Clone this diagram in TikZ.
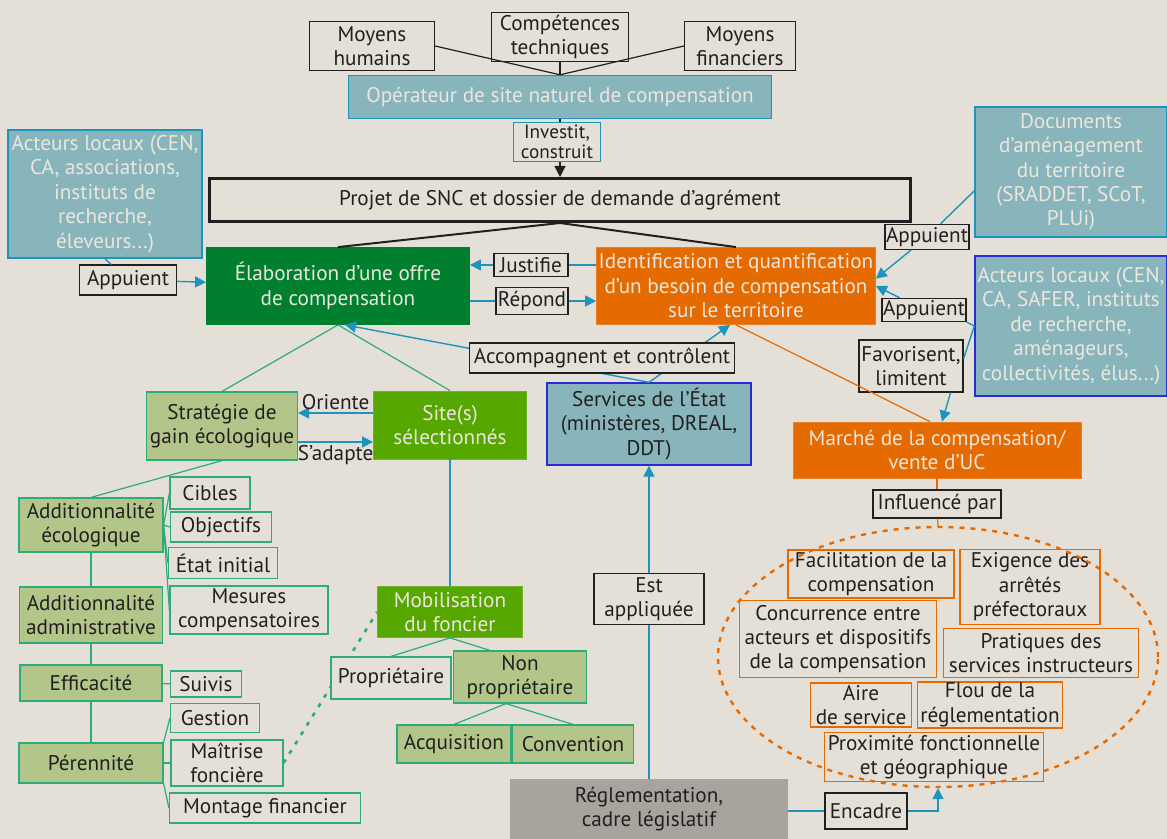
\documentclass[tikz,border=0pt]{standalone}
\usepackage{fontspec}
\setmainfont{PT Sans}
\usetikzlibrary{arrows.meta,shapes.geometric}
\definecolor{fond}{HTML}{E5E0D7}
\definecolor{bleucanard}{HTML}{1E93BC}
\definecolor{grisbleu}{HTML}{88B5BC}
\definecolor{bleuroi}{HTML}{2A2AD6}
\definecolor{vertfonce}{HTML}{00802E}
\definecolor{vertvif}{HTML}{56A700}
\definecolor{vertpale}{HTML}{B3C68A}
\definecolor{vertbord}{HTML}{2EAB7A}
\definecolor{orangecomp}{HTML}{E56A00}
\definecolor{grisregl}{HTML}{A8A39D}
\definecolor{texteclair}{HTML}{ECE6DD}
\definecolor{textefonce}{HTML}{231F20}
\begin{document}
\begin{tikzpicture}[x=0.5pt,y=0.5pt]
\tikzstyle{every node}=[font=\fontsize{10.6}{12.2}\selectfont,align=center,inner sep=0.5pt,text=textefonce]
\tikzstyle{noir}=[draw=textefonce,line width=0.6pt,fill=fond]
\tikzstyle{cadrebleu}=[draw=bleucanard,line width=0.7pt,fill=fond]
\tikzstyle{boitebleue}=[draw=bleucanard,line width=0.7pt,fill=grisbleu,text=texteclair]
\tikzstyle{boitebleuroi}=[draw=bleuroi,line width=0.7pt,fill=grisbleu]
\tikzstyle{boitevertfonce}=[draw=vertfonce,fill=vertfonce,text=texteclair]
\tikzstyle{boiteverte}=[draw=vertvif!85!white,fill=vertvif,text=texteclair]
\tikzstyle{boitepale}=[draw=vertbord,line width=0.6pt,fill=vertpale]
\tikzstyle{cadrevert}=[draw=vertbord,line width=0.6pt,fill=fond]
\tikzstyle{boiteorange}=[draw=orangecomp!85!white,fill=orangecomp,text=texteclair]
\tikzstyle{cadreorange}=[draw=orangecomp,line width=0.7pt]
\tikzstyle{trait}=[textefonce,line width=0.6pt]
\tikzstyle{lien}=[bleucanard,line width=0.7pt]
\tikzstyle{fleche}=[bleucanard,line width=0.7pt,-{Triangle[length=5.5pt,width=5.5pt]}]
\tikzstyle{branche}=[vertbord,line width=0.6pt]
\tikzstyle{trorange}=[orangecomp,line width=0.6pt]
\fill [fond] (0,0) rectangle (1167,-839);
\useasboundingbox (0,0) rectangle (1167,-839);
% operateur et projet
\node [noir,minimum width=62.5pt,minimum height=24.5pt] (humains) at (372,-46) {Moyens\\humains};
\node [noir,minimum width=68.5pt,minimum height=24.5pt] (competences) at (560,-37) {Compétences\\techniques};
\node [noir,minimum width=55.5pt,minimum height=24.5pt] (financiers) at (740,-46) {Moyens\\financiers};
\node [boitebleue,minimum width=211.5pt,minimum height=21.5pt] (operateur) at (560,-97) {Opérateur de site naturel de compensation};
\node [cadrebleu,minimum width=43.5pt,minimum height=19.5pt,font=\fontsize{9.6}{10}\selectfont] (investit) at (557,-142) {Investit,\\construit};
\node [draw=textefonce,line width=1.5pt,fill=fond,minimum width=350.5pt,minimum height=21.5pt] (projet) at (560,-200) {Projet de SNC et dossier de demande d’agrément};
\node [boitevertfonce,minimum width=131.5pt,minimum height=38.5pt] (elaboration) at (338,-286) {Élaboration d’une offre\\de compensation};
\node [boiteorange,minimum width=139.5pt,minimum height=38.5pt] (identification) at (736,-286) {Identification et quantification\\d’un besoin de compensation\\sur le territoire};
\draw [trait] (humains.east) -- (operateur.north);
\draw [trait] (competences) -- (operateur.north);
\draw [trait] (financiers.west) -- (operateur.north);
\draw [trait] (operateur.south) -- (operateur.south |- investit.north);
\draw [trait,-{Triangle[length=5.5pt,width=5.5pt]}] (operateur.south |- investit.south) -- (operateur.south |- projet.north);
\draw [trait,line width=1pt] (projet.south) -- (elaboration.north);
\draw [trait,line width=1pt] (projet.south) -- (identification.north);
% acteurs autour
\node [boitebleue,minimum width=97pt,minimum height=64pt] (acteursgauche) at (105,-194) {Acteurs locaux (CEN,\\CA, associations,\\instituts de\\recherche,\\éleveurs...)};
\node [noir,minimum width=48.5pt,minimum height=15pt] (appuientgauche) at (128,-280) {Appuient};
\node [noir,minimum width=37pt,minimum height=11.5pt] (justifie) at (531,-265) {Justifie};
\node [noir,minimum width=36pt,minimum height=13.5pt] (repond) at (532,-301) {Répond};
\node [boitebleue,minimum width=96pt,minimum height=65pt] (documents) at (1071,-172) {Documents\\d’aménagement\\du territoire\\(SRADDET, SCoT,\\PLUi)};
\node [noir,minimum width=41.5pt,minimum height=12.5pt] (appuienthaut) at (927,-237) {Appuient};
\node [boitebleuroi,text=texteclair,minimum width=96pt,minimum height=70pt] (acteursdroite) at (1071,-326) {Acteurs locaux (CEN,\\CA, SAFER, instituts\\de recherche,\\aménageurs,\\collectivités, élus...)};
\node [noir,minimum width=39.5pt,minimum height=11.5pt] (appuientbas) at (924,-310) {Appuient};
\node [noir,minimum width=52pt,minimum height=26pt] (favorisent) at (911,-366) {Favorisent,\\limitent};
\node [boitebleuroi,minimum width=102pt,minimum height=41pt] (services) at (649,-424) {Services de l’État\\(ministères, DREAL,\\DDT)};
\node [boiteorange,minimum width=144pt,minimum height=28pt] (marche) at (937,-450) {Marché de la compensation/\\vente d’UC};
\node [noir,minimum width=64pt,minimum height=14pt] (influence) at (937,-504) {Influencé par};
\draw [lien] (acteursgauche.south) -- (appuientgauche);
\draw [fleche] (appuientgauche) -- (elaboration);
\draw [lien] (identification.west |- justifie) -- (justifie);
\draw [fleche] (justifie) -- (elaboration.east |- justifie);
\draw [lien] (elaboration.east |- repond) -- (repond);
\draw [fleche] (repond) -- (identification.west |- repond);
\draw [lien] (documents.191) -- (appuienthaut);
\draw [fleche] (appuienthaut) -- (identification.3);
\draw [lien] (acteursdroite.west) -- (appuientbas.south east);
\draw [fleche] (appuientbas) -- (identification.east);
\draw [lien] (acteursdroite.west) -- (favorisent.8);
\draw [fleche] ([xshift=-6.5pt]favorisent.south east) -- ([xshift=2.5pt]marche.north);
\draw [trorange] (identification.south) -- ([xshift=-3.5pt]marche.north);
\draw [fleche] (services.north) -- ([xshift=3.5pt]elaboration.south);
\draw [fleche] (services.north) -- ([xshift=-3pt]identification.south);
\node [noir,minimum width=132.5pt,minimum height=15pt] (accompagnent) at (602,-358) {Accompagnent et contrôlent};
% offre de compensation
\node [boitepale,minimum width=75.5pt,minimum height=34pt] (strategie) at (222,-426) {Stratégie de\\gain écologique};
\node [boiteverte,minimum width=76.5pt,minimum height=34pt] (sites) at (450,-425) {Site(s)\\sélectionnés};
\node [boitepale,minimum width=72pt,minimum height=27pt] (addeco) at (91,-525) {Additionnalité\\écologique};
\node [cadrevert,minimum width=40pt,minimum height=16pt] (cibles) at (210,-493) {Cibles};
\node [cadrevert,minimum width=50.5pt,minimum height=15pt] (objectifs) at (221,-527) {Objectifs};
\node [cadrevert,minimum width=54.5pt,minimum height=15.5pt] (etatinitial) at (223,-563) {État initial};
\node [cadrevert,minimum width=79pt,minimum height=24pt] (mesures) at (249,-610) {Mesures\\compensatoires};
\node [boitepale,minimum width=71.5pt,minimum height=28pt] (addadmin) at (91,-615) {Additionnalité\\administrative};
\node [boitepale,minimum width=71pt,minimum height=18pt] (efficacite) at (91,-683) {Efficacité};
\node [cadrevert,minimum width=35.5pt,minimum height=13pt] (suivis) at (206,-684) {Suivis};
\node [boitepale,minimum width=72pt,minimum height=20pt] (perennite) at (91,-763) {Pérennité};
\node [cadrevert,minimum width=44.5pt,minimum height=14.5pt] (gestion) at (215,-718) {Gestion};
\node [cadrevert,minimum width=56pt,minimum height=23pt] (maitrise) at (227,-763) {Maîtrise\\foncière};
\node [cadrevert,minimum width=95.5pt,minimum height=15pt] (montage) at (265,-808) {Montage financier};
\node [boiteverte,minimum width=72.5pt,minimum height=25.5pt] (mobilisation) at (450,-612) {Mobilisation\\du foncier};
\node [boitepale,minimum width=66.5pt,minimum height=26pt] (nonproprietaire) at (520,-677) {Non\\propriétaire};
\node [boitepale,minimum width=57pt,minimum height=19pt] (acquisition) at (454,-744) {Acquisition};
\node [boitepale,minimum width=60.5pt,minimum height=19pt] (convention) at (573,-744) {Convention};
\draw [branche] (elaboration.south) -- (strategie.north);
\draw [branche] (elaboration.south) -- (sites.north);
\draw [fleche] (sites.west |- 0,-413) -- node [above,inner sep=1.5pt] (oriente) {Oriente} (strategie.east |- 0,-413);
\draw [fleche] (strategie.east |- 0,-442) -- node [below,inner sep=1.5pt] (sadapte) {S’adapte} (sites.west |- 0,-442);
\draw [branche] (strategie.south) -- (addeco.north);
\draw [branche] (addeco.east) -- (cibles.west);
\draw [branche] (addeco.east) -- (objectifs.west);
\draw [branche] (addeco.east) -- (etatinitial.west);
\draw [branche] (addeco.east) -- (mesures.west);
\draw [branche] (addeco) -- (addadmin);
\draw [branche] (addadmin) -- (efficacite);
\draw [branche] (efficacite) -- (perennite);
\draw [branche] (efficacite) -- (suivis);
\draw [branche] (perennite.north east) -- (gestion.west);
\draw [branche] (perennite.east) -- (maitrise.west);
\draw [branche] (perennite.south east) -- (montage.west);
\draw [lien] (sites) -- (mobilisation);
\draw [vertbord,line width=1.3pt,dash pattern=on 2pt off 3.5pt] (maitrise.east) -- (mobilisation.west);
\node [cadrevert,minimum width=60pt,minimum height=21pt] (proprietaire) at (391,-678) {Propriétaire};
\draw [branche] (mobilisation.south) -- (proprietaire.north);
\draw [branche] (mobilisation.south) -- ([xshift=-15pt]nonproprietaire.north);
\draw [branche] ([xshift=-7pt]nonproprietaire.south) -- (acquisition.north);
\draw [branche] ([xshift=-7pt]nonproprietaire.south) -- (convention.north);
% reglementation et facteurs du marche
\node [noir,minimum width=55pt,minimum height=25.5pt] (appliquee) at (649,-599) {Est\\appliquée};
\node [draw=grisregl,fill=grisregl,minimum width=138.5pt,minimum height=30pt] (reglementation) at (649,-809) {Réglementation,\\cadre législatif};
\node [noir,minimum width=41pt,minimum height=18pt] (encadre) at (866,-811) {Encadre};
\node [cadreorange,minimum width=83pt,minimum height=24pt] (facilitation) at (871,-574) {Facilitation de la\\compensation};
\node [cadreorange,minimum width=70pt,minimum height=37.5pt] (exigence) at (1030,-587) {Exigence des\\arrêtés\\préfectoraux};
\node [cadreorange,minimum width=98.5pt,minimum height=38.5pt] (concurrence) at (838,-639) {Concurrence entre\\acteurs et dispositifs\\de la compensation};
\node [cadreorange,minimum width=97.5pt,minimum height=24.5pt] (pratiques) at (1041,-653) {Pratiques des\\services instructeurs};
\node [cadreorange,minimum width=50.5pt,minimum height=22pt] (aire) at (861,-705) {Aire\\de service};
\node [cadreorange,minimum width=72.5pt,minimum height=22.5pt] (flou) at (990,-705) {Flou de la\\réglementation};
\node [cadreorange,minimum width=109.5pt,minimum height=24.5pt] (proximite) at (934,-757) {Proximité fonctionnelle\\et géographique};
\node [ellipse,draw=orangecomp,line width=1.2pt,dash pattern=on 2.5pt off 3pt,minimum width=220pt,minimum height=130pt,inner sep=0pt] (facteurs) at (938,-657) {};
\draw [lien] (reglementation) -- (appliquee);
\draw [fleche] (appliquee) -- (services);
\draw [lien] (reglementation.east |- encadre) -- (encadre);
\draw [fleche] (encadre.east) -| (facteurs.south);
\draw [trorange] (marche) -- (influence);
\draw [trorange] (influence) -- (facteurs.north);
\end{tikzpicture}
\end{document}
